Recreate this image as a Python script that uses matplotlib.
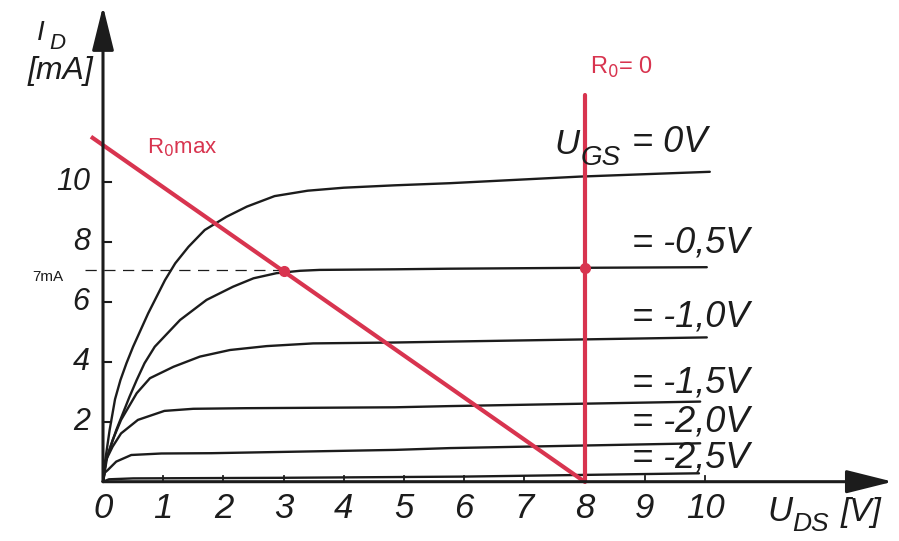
import matplotlib
matplotlib.use("Agg")
import matplotlib.pyplot as plt

# JFET Ausgangskennlinien, Werte (U_DS in V, I_D in mA)
ugs_labels = ["= -0,5V", "= -1,0V", "= -1,5V", "= -2,0V", "= -2,5V"]
label_y = [7.96, 5.49, 3.29, 1.99, 0.79]

u_0v = [0, 0.03, 0.11, 0.20, 0.29, 0.39, 0.50, 0.75, 1.03, 1.20, 1.42, 1.69, 2.05, 2.39, 2.85, 3.40, 4.00, 4.85, 5.76, 7.92, 10.08]
i_0v = [0, 0.61, 1.72, 2.75, 3.39, 3.95, 4.50, 5.61, 6.72, 7.28, 7.83, 8.39, 8.83, 9.17, 9.52, 9.70, 9.80, 9.88, 9.95, 10.17, 10.33]

u_05 = [0, 0.07, 0.22, 0.44, 0.56, 0.69, 0.86, 1.28, 1.72, 2.16, 2.50, 2.88, 3.27, 3.60, 4.85, 5.76, 8.00, 10.03]
i_05 = [0, 0.83, 1.72, 2.83, 3.39, 3.95, 4.50, 5.39, 6.06, 6.50, 6.78, 6.95, 7.03, 7.06, 7.08, 7.10, 7.13, 7.15]

u_10 = [0, 0.05, 0.16, 0.30, 0.56, 0.78, 1.17, 1.61, 2.11, 2.72, 3.49, 4.85, 5.76, 10.03]
i_10 = [0, 0.72, 1.39, 2.06, 2.95, 3.45, 3.83, 4.17, 4.39, 4.52, 4.61, 4.64, 4.67, 4.81]

u_15 = [0, 0.05, 0.16, 0.30, 0.58, 1.02, 1.50, 2.36, 4.85, 5.76, 9.92]
i_15 = [0, 0.72, 1.17, 1.61, 2.06, 2.36, 2.43, 2.45, 2.48, 2.52, 2.67]

u_20 = [0, 0.03, 0.08, 0.22, 0.47, 0.97, 1.80, 4.85, 5.76, 9.92]
i_20 = [0, 0.30, 0.39, 0.67, 0.89, 0.94, 0.95, 1.06, 1.12, 1.28]

u_25 = [0, 0.10, 0.50, 3.0, 6.0, 9.9]
i_25 = [0, 0.08, 0.11, 0.13, 0.17, 0.28]

curves = [(u_0v, i_0v), (u_05, i_05), (u_10, i_10), (u_15, i_15), (u_20, i_20), (u_25, i_25)]

# Arbeitsgeraden
load_u = [-0.2, 8.0]
load_i = [11.5, 0.0]
r0_u = [8.0, 8.0]
r0_i = [0.0, 12.9]
op_u = [3.0, 8.0]
op_i = [7.03, 7.13]
i_7ma = 7.05

x_ticks = [0, 1, 2, 3, 4, 5, 6, 7, 8, 9, 10]
y_ticks = [2, 4, 6, 8, 10]

RED = "#d8344f"
INK = "#1c1c1c"
FONT = "Liberation Sans"

fig = plt.figure(figsize=(8.99, 5.41), dpi=100)
ax = fig.add_axes([0, 0, 1, 1])
ax.set_xlim(-1.711, 13.223)
ax.set_ylim(-1.977, 16.057)
ax.axis("off")

# Achsen mit Pfeilen
ax.annotate("", xy=(13.12, 0), xytext=(0, 0),
            arrowprops=dict(arrowstyle="-|>,head_length=1.8,head_width=0.45",
                            color=INK, lw=2.2, mutation_scale=16, shrinkA=0, shrinkB=0))
ax.annotate("", xy=(0, 15.85), xytext=(0, 0),
            arrowprops=dict(arrowstyle="-|>,head_length=1.7,head_width=0.42",
                            color=INK, lw=2.2, mutation_scale=16, shrinkA=0, shrinkB=0))

for t in x_ticks[1:]:
    ax.plot([t, t], [0, 0.18], color=INK, lw=1.3)
    ax.text(t, -0.88, str(t), ha="center", va="center", fontsize=25,
            family=FONT, style="italic", color=INK)
ax.text(0, -0.88, "0", ha="center", va="center", fontsize=25,
        family=FONT, style="italic", color=INK)
for t in y_ticks:
    ax.plot([0, 0.14], [t, t], color=INK, lw=1.5)
    ax.text(-0.22, t, str(t), ha="right", va="center", fontsize=22,
            family=FONT, style="italic", color=INK)

# Kennlinien
for u, i in curves:
    ax.plot(u, i, color=INK, lw=1.7, solid_capstyle="round", solid_joinstyle="round")

# Beschriftung der Kennlinien
ax.text(7.5, 11.25, "U", ha="left", va="center", fontsize=25, family=FONT, style="italic", color=INK)
ax.text(7.93, 10.8, "GS", ha="left", va="center", fontsize=20, family=FONT, style="italic", color=INK)
ax.text(8.79, 11.3, "= 0V", ha="left", va="center", fontsize=26, family=FONT, style="italic", color=INK)
for txt, yy in zip(ugs_labels, label_y):
    ax.text(8.79, yy, txt, ha="left", va="center", fontsize=26, family=FONT, style="italic", color=INK)

# Achsentitel
ax.text(-1.03, 14.95, "I", ha="center", va="center", fontsize=20, family=FONT, style="italic", color=INK)
ax.text(-0.76, 14.6, "D", ha="center", va="center", fontsize=16, family=FONT, style="italic", color=INK)
ax.text(-0.71, 13.7, "[mA]", ha="center", va="center", fontsize=23, family=FONT, style="italic", color=INK)
ax.text(11.03, -1.0, "U", ha="left", va="center", fontsize=25, family=FONT, style="italic", color=INK)
ax.text(11.45, -1.4, "DS", ha="left", va="center", fontsize=19, family=FONT, style="italic", color=INK)
ax.text(12.25, -1.03, "[V]", ha="left", va="center", fontsize=24, family=FONT, style="italic", color=INK)

# 7 mA Hilfslinie
ax.plot([-0.3, op_u[0]], [i_7ma, i_7ma], color=INK, lw=0.9, dashes=(9, 6))
ax.text(-0.91, 6.82, "7mA", ha="center", va="center", fontsize=11, family=FONT, color=INK)

# Arbeitsgeraden und Arbeitspunkte
ax.plot(load_u, load_i, color=RED, lw=3.0, solid_capstyle="butt")
ax.plot(r0_u, r0_i, color=RED, lw=3.0, solid_capstyle="round")
ax.plot(op_u, op_i, "o", color=RED, ms=7)
ax.text(0.73, 11.12, "R$_0$max", ha="left", va="center", fontsize=16, family=FONT, color=RED)
ax.text(8.09, 13.8, "R$_0$= 0", ha="left", va="center", fontsize=17, family=FONT, color=RED)

fig.savefig("out.png", dpi=100, facecolor="white")
